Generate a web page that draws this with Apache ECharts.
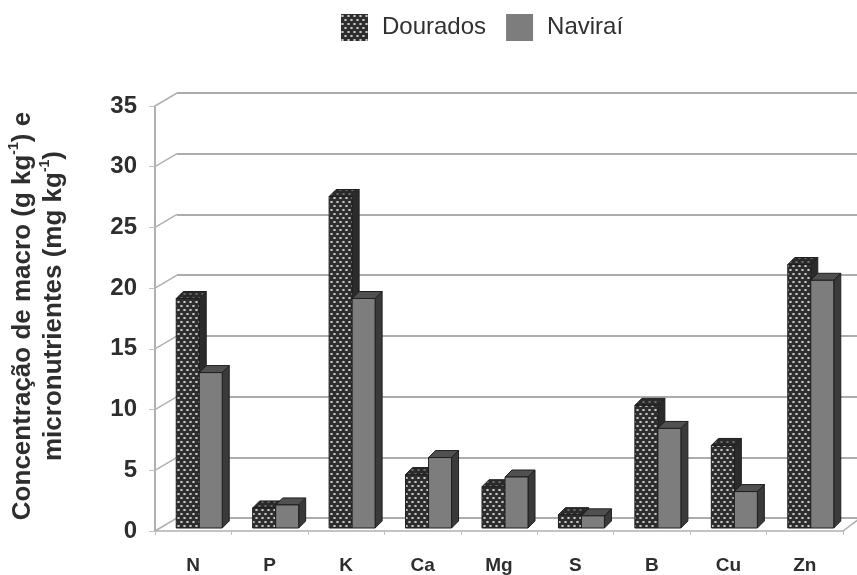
<!DOCTYPE html>
<html>
<head>
<meta charset="utf-8">
<script src="https://cdn.jsdelivr.net/npm/echarts@6/dist/echarts.min.js"></script>
<style>html,body{margin:0;padding:0;background:#fff;}#c{width:857px;height:575px;}</style>
</head>
<body>
<div id="c"></div>
<script>
var categories = ['N', 'P', 'K', 'Ca', 'Mg', 'S', 'B', 'Cu', 'Zn'];
var dourados = [18.9, 1.65, 27.3, 4.4, 3.4, 1.1, 10.1, 6.8, 21.7];
var navirai = [12.8, 1.9, 18.9, 5.8, 4.2, 1.0, 8.2, 3.0, 20.4];
var yTicks = [0, 5, 10, 15, 20, 25, 30, 35];
var seriesNames = ['Dourados', 'Naviraí'];

var FONT = 'Liberation Sans, Arial, sans-serif';

function makePattern() {
  var c = document.createElement('canvas');
  c.width = 6; c.height = 8;
  var g = c.getContext('2d');
  g.fillStyle = '#2e2e2e';
  g.fillRect(0, 0, 6, 8);
  g.fillStyle = '#d4d4d4';
  g.beginPath(); g.ellipse(1.5, 2, 1.4, 1.1, 0, 0, Math.PI * 2); g.fill();
  g.beginPath(); g.ellipse(4.5, 6, 1.4, 1.1, 0, 0, Math.PI * 2); g.fill();
  return c;
}
function makeDarkPattern() {
  var c = document.createElement('canvas');
  c.width = 6; c.height = 8;
  var g = c.getContext('2d');
  g.fillStyle = '#2a2a2a';
  g.fillRect(0, 0, 6, 8);
  g.fillStyle = '#707070';
  g.beginPath(); g.ellipse(1.5, 2, 1.3, 1, 0, 0, Math.PI * 2); g.fill();
  g.beginPath(); g.ellipse(4.5, 6, 1.3, 1, 0, 0, Math.PI * 2); g.fill();
  return c;
}
var pat = { image: makePattern(), repeat: 'repeat' };
var patDark = { image: makeDarkPattern(), repeat: 'repeat' };

var BW = 23, DEPTH = 7, SHIFT = 6, LIFT = 3;

function barRenderer(which) {
  return function (params, api) {
    var ci = api.value(0), v = api.value(1);
    var b = api.coord([ci, 0]);
    var t = api.coord([ci, v]);
    var x0 = b[0] + SHIFT + (which === 0 ? -BW : 0);
    var yb = b[1] - LIFT, yt = t[1] - LIFT;
    var d = DEPTH;
    var frontFill = which === 0 ? pat : '#7d7d7d';
    var topFill = which === 0 ? patDark : '#505050';
    var sideFill = which === 0 ? '#2b2b2b' : '#3a3a3a';
    var stroke = '#1e1e1e';
    return {
      type: 'group',
      children: [
        { type: 'polygon', shape: { points: [[x0 + BW, yt], [x0 + BW + d, yt - d], [x0 + BW + d, yb - d], [x0 + BW, yb]] },
          style: { fill: sideFill, stroke: stroke, lineWidth: 1 } },
        { type: 'polygon', shape: { points: [[x0, yt], [x0 + d, yt - d], [x0 + BW + d, yt - d], [x0 + BW, yt]] },
          style: { fill: topFill, stroke: stroke, lineWidth: 1 } },
        { type: 'rect', shape: { x: x0, y: yt, width: BW, height: yb - yt },
          style: { fill: frontFill, stroke: stroke, lineWidth: 1 } }
      ]
    };
  };
}

function connectorRenderer(params, api) {
  var v = api.value(1);
  var p = api.coord([0, v]);
  var cs = params.coordSys;
  var x = cs.x, y = p[1];
  var kids = [{ type: 'line', shape: { x1: x, y1: y, x2: x + 22, y2: y - 13 },
    style: { stroke: '#b0b0b0', lineWidth: 1.5 } }];
  if (v === 0) {
    kids.push({ type: 'line', shape: { x1: cs.x + cs.width, y1: y, x2: cs.x + cs.width + 16, y2: y - 12 },
      style: { stroke: '#b0b0b0', lineWidth: 1.5 } });
  }
  return { type: 'group', children: kids };
}

var titleRich = {
  a: { fontSize: 26, fontWeight: 'bold', fill: '#2e2e2e', fontFamily: FONT, lineHeight: 32 },
  s: { fontSize: 14, fontWeight: 'bold', fill: '#2e2e2e', fontFamily: FONT, verticalAlign: 'top', lineHeight: 16 }
};

var chart = echarts.init(document.getElementById('c'), null, { renderer: 'canvas' });
chart.setOption({
  animation: false,
  backgroundColor: '#ffffff',
  textStyle: { fontFamily: FONT },
  legend: {
    data: seriesNames,
    left: 336, top: 9,
    itemWidth: 27, itemHeight: 27, itemGap: 20,
    icon: 'rect',
    textStyle: { fontSize: 24, color: '#303030', fontFamily: FONT, padding: [0, 0, 0, 9] }
  },
  grid: [
    { left: 155, top: 106, right: 14, bottom: 44 },
    { left: 177, top: 93, right: 0, bottom: 57 }
  ],
  xAxis: [
    { type: 'category', data: categories, gridIndex: 0,
      axisLine: { lineStyle: { color: '#b0b0b0', width: 1.5 } },
      axisTick: { show: true, length: 4, lineStyle: { color: '#c0c0c0' } },
      axisLabel: { fontSize: 19, fontWeight: 'bold', color: '#2e2e2e', margin: 25, fontFamily: FONT } },
    { type: 'category', data: categories, gridIndex: 1, show: false }
  ],
  yAxis: [
    { type: 'value', gridIndex: 0, min: 0, max: 35, interval: 5,
      axisLine: { show: true, lineStyle: { color: '#b0b0b0', width: 2 } },
      axisTick: { show: true, length: 6, lineStyle: { color: '#c0c0c0' } },
      splitLine: { show: false },
      axisLabel: { fontSize: 24, fontWeight: 'bold', color: '#2e2e2e', margin: 18, fontFamily: FONT } },
    { type: 'value', gridIndex: 1, min: 0, max: 35, interval: 5,
      axisLine: { show: false }, axisTick: { show: false }, axisLabel: { show: false },
      splitLine: { show: true, lineStyle: { color: '#acacac', width: 2 } } }
  ],
  graphic: [
    { type: 'text', x: 23, y: 316, rotation: Math.PI / 2, silent: true,
      style: { text: '{a|Concentração de macro (g kg}{s|-1}{a|) e}', align: 'center', verticalAlign: 'middle', rich: titleRich } },
    { type: 'text', x: 54, y: 306, rotation: Math.PI / 2, silent: true,
      style: { text: '{a|micronutrientes (mg kg}{s|-1}{a|)}', align: 'center', verticalAlign: 'middle', rich: titleRich } }
  ],
  series: [
    { type: 'custom', name: 'connectors', xAxisIndex: 0, yAxisIndex: 0, silent: true, clip: false, z: 1,
      renderItem: connectorRenderer, data: yTicks.map(function (v) { return [0, v]; }) },
    { type: 'custom', name: seriesNames[0], xAxisIndex: 0, yAxisIndex: 0, clip: false, z: 3,
      itemStyle: { color: pat },
      renderItem: barRenderer(0), data: dourados.map(function (v, i) { return [i, v]; }) },
    { type: 'custom', name: seriesNames[1], xAxisIndex: 0, yAxisIndex: 0, clip: false, z: 4,
      itemStyle: { color: '#7d7d7d' },
      renderItem: barRenderer(1), data: navirai.map(function (v, i) { return [i, v]; }) }
  ]
});
</script>
</body>
</html>
